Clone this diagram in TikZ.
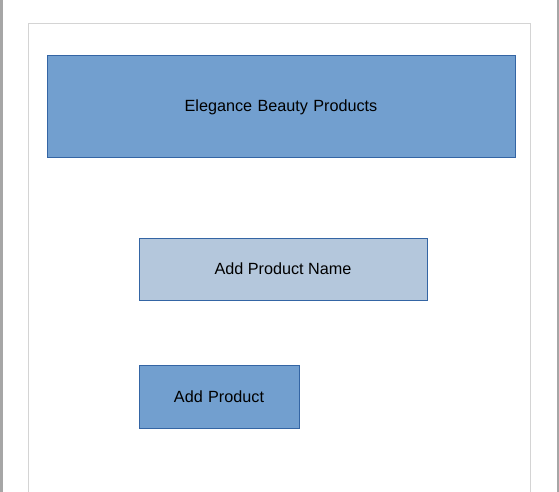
\documentclass[tikz,border=0pt]{standalone}
\usepackage{fontspec}
\setmainfont{Liberation Sans}
\usepackage{tikz}
\definecolor{boxblue}{HTML}{729FCF}
\definecolor{boxlight}{HTML}{B4C7DC}
\definecolor{boxedge}{HTML}{3465A4}
\definecolor{pageedge}{HTML}{A6A6A6}
\definecolor{frameedge}{HTML}{D4D4D4}
\tikzset{
  box/.style={draw=boxedge, line width=0.8bp, fill=boxblue, inner sep=0pt,
    text depth=0pt, font=\fontsize{16.2bp}{19bp}\selectfont},
  lightbox/.style={box, fill=boxlight}
}
\begin{document}
\begin{tikzpicture}[x=1bp,y=-1bp]
       \useasboundingbox (0,0) rectangle (559,492) ;
       \draw [pageedge, line width=2bp] (1.5,0) -- (1.5,492) ;
       \draw [pageedge, line width=2bp] (557.5,0) -- (557.5,492) ;
       \draw [frameedge, line width=1.5bp] (28.5,500) -- (28.5,23.5) -- (530.5,23.5) -- (530.5,500) ;
       \node [box, minimum width=468bp, minimum height=102bp, text width=468bp, align=center] (title) at (281,106) {Elegance Beauty Products\hspace*{2bp}} ;
       \node [lightbox, minimum width=288bp, minimum height=62bp] (name) at (283,269) {Add Product Name} ;
       \node [box, minimum width=160bp, minimum height=63bp, text width=160bp, align=center] (add) at (219,396.5) {Add Product\hspace*{6bp}} ;
      \end{tikzpicture}
\end{document}
